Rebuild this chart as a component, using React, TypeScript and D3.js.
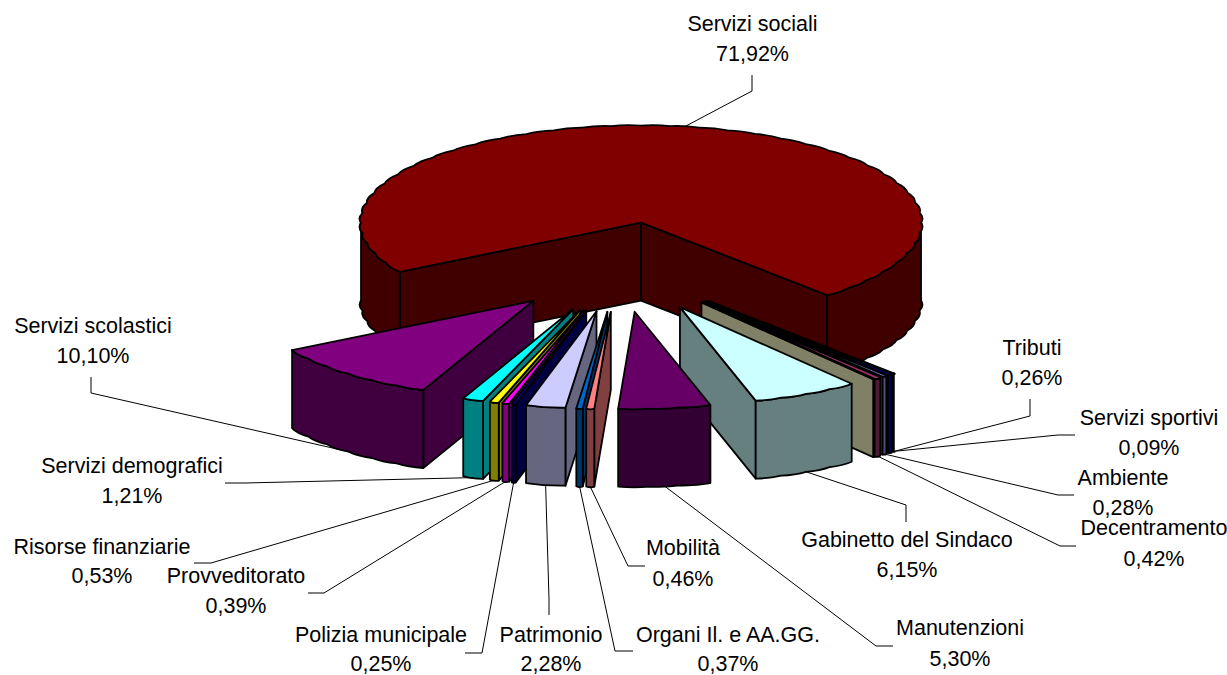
import * as d3 from 'd3';

const WIDTH = 1227;
const HEIGHT = 675;

// clockwise from the start of "Servizi sociali"; the empty entry has no label in the source chart
const CATEGORIES = ['Servizi sociali', 'Servizi sportivi', 'Tributi', 'Ambiente', 'Decentramento', '', 'Gabinetto del Sindaco', 'Manutenzioni', 'Mobilità', 'Organi Il. e AA.GG.', 'Patrimonio', 'Polizia municipale', 'Provveditorato', 'Risorse finanziarie', 'Servizi demografici', 'Servizi scolastici'];
const VALUES = [71.92, 0.09, 0.26, 0.28, 0.42, 0, 6.15, 5.3, 0.46, 0.37, 2.28, 0.25, 0.39, 0.53, 1.21, 10.1];
const COLORS = ['#800000', '#008080', '#0000FF', '#9999FF', '#993366', '#FFFFCC', '#CCFFFF', '#660066', '#FF8080', '#0066CC', '#CCCCFF', '#000080', '#FF00FF', '#FFFF00', '#00FFFF', '#800080'];

// label layout: text centre, first baseline, second baseline, leader elbow and end
const LABEL_X = [752.5, 1149, 1032, 1123, 1154, 0, 907, 960, 683, 728, 551, 381, 236, 102, 132, 93];
const LABEL_Y1 = [31, 425, 355, 485, 535, 0, 547, 635, 555, 642, 642, 642, 583, 554, 473, 333];
const LABEL_Y2 = [61, 455, 385, 515, 566, 0, 577, 666, 586, 671, 671, 671, 613, 583, 503, 363];
const LEADER_ELBOW: number[][] = [[752, 91], [1058, 435], [1030, 416], [1058, 495], [1060, 546], [], [906, 505], [876, 646], [628, 566], [615, 651], [549, 599], [482, 653], [324, 593], [211, 563], [245, 483], [91, 393]];
const LEADER_END: number[][] = [[752, 75], [1075, 435], [1030, 399], [1074, 495], [1076, 546], [], [906, 522], [893, 646], [645, 566], [633, 651], [549, 615], [465, 653], [308, 593], [194, 563], [225, 483], [91, 377]];

const CENTER = { x: 620.5, y: 267 };
const RX = 280;
const RY = 97;
const DEPTH = 78;
const EXPLODE_X = 132;
const EXPLODE_Y = 45;
const START = (239.5 * Math.PI) / 180;
const STEP = (6 * Math.PI) / 180;
const BULGE = 1.014; // the source renderer leaves a scalloped rim

const FONT = "'Liberation Sans', Arial, sans-serif";

const pie = d3.pie<number>().sort(null).startAngle(START).endAngle(START + 2 * Math.PI);

type P = [number, number];

function rimPoint(o: P, t: number, k = 1, dy = 0): P {
  return [o[0] + RX * k * Math.sin(t), o[1] - RY * k * Math.cos(t) + dy];
}

// continues a path along the rim from a0 to a1
function rimTo(path: d3.Path, o: P, a0: number, a1: number, dy = 0) {
  const n = Math.max(1, Math.round(Math.abs(a1 - a0) / STEP));
  const da = (a1 - a0) / n;
  for (let i = 0; i < n; i++) {
    const c = rimPoint(o, a0 + da * (i + 0.5), BULGE, dy);
    const p = rimPoint(o, a0 + da * (i + 1), 1, dy);
    path.quadraticCurveTo(c[0], c[1], p[0], p[1]);
  }
}

function topPath(o: P, a0: number, a1: number) {
  const p = d3.path();
  p.moveTo(o[0], o[1]);
  const s = rimPoint(o, a0);
  p.lineTo(s[0], s[1]);
  rimTo(p, o, a0, a1);
  p.closePath();
  return p.toString();
}

function wallPath(o: P, a: number) {
  const r = rimPoint(o, a);
  const p = d3.path();
  p.moveTo(o[0], o[1]);
  p.lineTo(r[0], r[1]);
  p.lineTo(r[0], r[1] + DEPTH);
  p.lineTo(o[0], o[1] + DEPTH);
  p.closePath();
  return p.toString();
}

function facePath(o: P, a0: number, a1: number) {
  const s = rimPoint(o, a0);
  const e = rimPoint(o, a1, 1, DEPTH);
  const p = d3.path();
  p.moveTo(s[0], s[1]);
  rimTo(p, o, a0, a1);
  p.lineTo(e[0], e[1]);
  rimTo(p, o, a1, a0, DEPTH);
  p.closePath();
  return p.toString();
}

// front facing part of the rim, t between 90 and 270 degrees (mod 360)
function frontIntervals(a0: number, a1: number): P[] {
  const out: P[] = [];
  for (let k = 0; k < 3; k++) {
    const lo = Math.max(a0, Math.PI / 2 + k * 2 * Math.PI);
    const hi = Math.min(a1, (3 * Math.PI) / 2 + k * 2 * Math.PI);
    if (hi > lo) out.push([lo, hi]);
  }
  return out;
}

function sideColor(c: string) {
  const r = d3.rgb(c);
  return d3.rgb(r.r / 2, r.g / 2, r.b / 2).formatHex();
}

export default function App() {
  const arcs = pie(VALUES).map((d, i) => {
    const mid = (d.startAngle + d.endAngle) / 2;
    const origin: P = [CENTER.x + EXPLODE_X * Math.sin(mid), CENTER.y - EXPLODE_Y * Math.cos(mid)];
    return { i, a0: d.startAngle, a1: d.endAngle, mid, origin };
  });

  // painter's order: the big slice first, then towards the front
  const order = arcs.slice().sort((a, b) => {
    if (a.i === 0) return -1;
    if (b.i === 0) return 1;
    const da = Math.abs(((a.mid % (2 * Math.PI)) + 2 * Math.PI) % (2 * Math.PI) - Math.PI);
    const db = Math.abs(((b.mid % (2 * Math.PI)) + 2 * Math.PI) % (2 * Math.PI) - Math.PI);
    return db - da;
  });

  return (
    <svg width={WIDTH} height={HEIGHT} style={{ position: 'absolute', left: 0, top: 0, display: 'block', background: '#fff' }}>
      {order.map(d => {
        const side = sideColor(COLORS[d.i]);
        return (
          <g key={d.i} stroke="#000" strokeWidth={1.8} strokeLinejoin="round">
            {Math.sin(d.a0) < 0 && <path d={wallPath(d.origin, d.a0)} fill={side} />}
            {Math.sin(d.a1) > 0 && <path d={wallPath(d.origin, d.a1)} fill={side} />}
            {frontIntervals(d.a0, d.a1).map(([lo, hi], j) => (
              <path key={j} d={facePath(d.origin, lo, hi)} fill={side} />
            ))}
            <path d={topPath(d.origin, d.a0, d.a1)} fill={COLORS[d.i]} />
          </g>
        );
      })}

      {arcs.filter(d => CATEGORIES[d.i]).map(d => {
        // leader starts at the middle of the slice rim, at the bottom when the rim faces us
        const start = rimPoint(d.origin, d.mid, 1, Math.cos(d.mid) < 0 ? DEPTH : 0);
        const line = d3.line()([start, LEADER_ELBOW[d.i] as P, LEADER_END[d.i] as P]) as string;
        return <path key={d.i} d={line} fill="none" stroke="#000" strokeWidth={1} />;
      })}

      <g fontFamily={FONT} fontSize={21.5} fill="#000" textAnchor="middle">
        {arcs.filter(d => CATEGORIES[d.i]).map(d => (
          <g key={d.i}>
            <text x={LABEL_X[d.i]} y={LABEL_Y1[d.i]}>{CATEGORIES[d.i]}</text>
            <text x={LABEL_X[d.i]} y={LABEL_Y2[d.i]}>{VALUES[d.i].toFixed(2).replace('.', ',')}%</text>
          </g>
        ))}
      </g>
    </svg>
  );
}
